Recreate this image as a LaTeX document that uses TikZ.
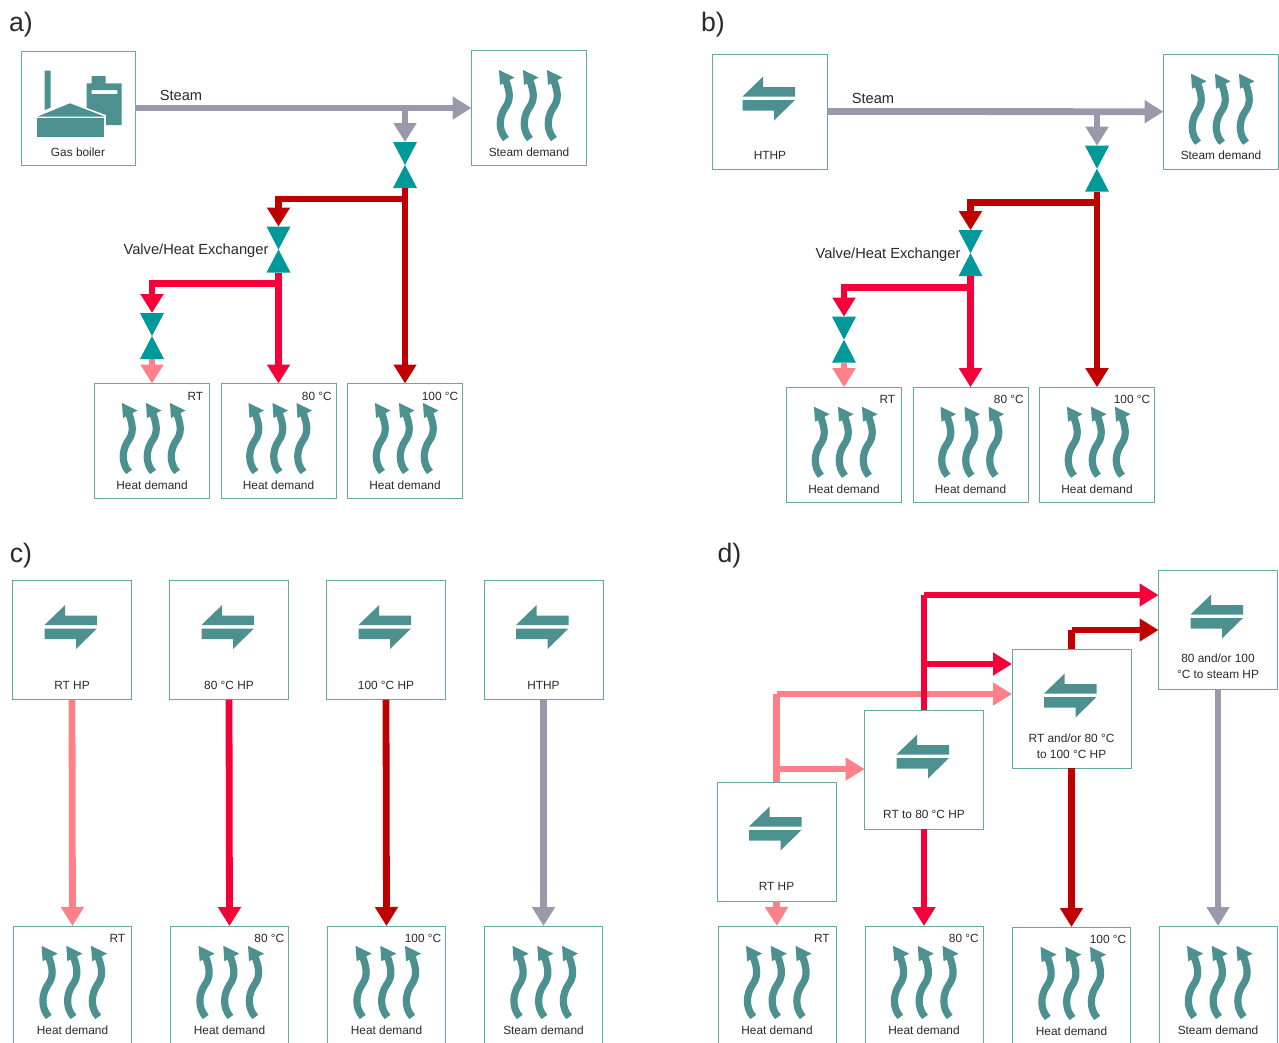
\documentclass[tikz,border=0pt]{standalone}
\usepackage{fontspec}
\setmainfont{Liberation Sans}
\usetikzlibrary{arrows.meta}
\definecolor{boxc}{HTML}{62AAA6}
\definecolor{iconc}{HTML}{4C9090}
\definecolor{valvec}{HTML}{009999}
\definecolor{grayc}{HTML}{9A99AC}
\definecolor{dredc}{HTML}{C00000}
\definecolor{redc}{HTML}{F50039}
\definecolor{pinkc}{HTML}{FF8088}
\definecolor{txtc}{HTML}{2A2A2A}
\tikzset{
  flowline/.style={line width=5.1pt,line join=miter,-{Triangle[length=14.25pt,width=16.5pt]}},
  stemline/.style={line width=5.1pt,line join=miter},
  bxstyle/.style={draw=boxc,line width=.65pt,fill=white,inner sep=0pt,outer sep=0pt},
  lblstyle/.style={font=\fontsize{8.9}{12}\selectfont,text=txtc,align=center,inner sep=0pt},
  bigstyle/.style={font=\fontsize{11}{13}\selectfont,text=txtc,inner sep=0pt},
  panelstyle/.style={font=\fontsize{20}{24}\selectfont,text=txtc,inner sep=0pt},
  valvestyle/.style={inner sep=0pt,outer sep=0pt,minimum width=18pt,minimum height=34.5pt}
}
% box: name, cx, cy, w, h
\newcommand{\bx}[5]{\node[bxstyle,minimum width=#4*.75pt,minimum height=#5*.75pt] (#1) at (#2,#3) {};}
% label inside box: name, dy, text
\newcommand{\lab}[3]{\node[lblstyle,shift={(0,#2)}] (#1-l) at (#1.center) {#3};}
% temperature label
\newcommand{\tmp}[2]{\node[lblstyle,anchor=east,shift={(-4,12.5)}] (#1-t) at (#1.north east) {#2};}
% heat pump icon
\newcommand{\hpi}[1]{\begin{scope}[shift={(#1.center)}]
  \fill[iconc] (-27.5,-15)--(-6.8,-35)--(-6.8,-24.5)--(25,-24.5)--(25,-15)--cycle;
  \fill[iconc] (-27.5,-11.5)--(25,-11.5)--(4,9)--(4,-1)--(-27.5,-1)--cycle;
\end{scope}}
% waves
\newcommand{\onewave}[1]{\begin{scope}[shift={(#1,0)}]
  \fill[iconc] (0,0)--(15.5,7.5)--(1,15)--cycle;
  \draw[iconc,line width=5.4pt] (7,11) .. controls (11,22) and (12,30) .. (6,38) .. controls (0,47) and (-1,60) .. (7,69);
\end{scope}}
\newcommand{\waves}[2]{\begin{scope}[shift={(#1.center)},scale=#2,shift={(-30,-38)}]
  \onewave{0}\onewave{24}\onewave{48}
\end{scope}}
% valve
\newcommand{\valve}[3]{\node[valvestyle] (#1) at (#2,#3) {};
  \fill[valvec] (#1.north west)--(#1.north east)--(#1.center)--cycle;
  \fill[valvec] (#1.south west)--(#1.south east)--(#1.center)--cycle;}
% panels a and b: prefix, dx, dy
\newcommand{\panelab}[3]{%
  \bx{#1st}{{529+#2}}{{108+#3}}{115}{115}
  \waves{#1st}{1}\lab{#1st}{44}{Steam demand}
  \bx{#1rt}{{152+#2}}{{441+#3}}{115}{115}
  \waves{#1rt}{1}\lab{#1rt}{44.5}{Heat demand}\tmp{#1rt}{RT\hspace{1.5pt}}
  \bx{#1ei}{{278.5+#2}}{{441+#3}}{115}{115}
  \waves{#1ei}{1}\lab{#1ei}{44.5}{Heat demand}\tmp{#1ei}{80 °C}
  \bx{#1hu}{{405+#2}}{{441+#3}}{115}{115}
  \waves{#1hu}{1}\lab{#1hu}{44.5}{Heat demand}\tmp{#1hu}{100 °C}
  \valve{#1va}{{405+#2}}{{165+#3}}
  \valve{#1vb}{{278.5+#2}}{{249.5+#3}}
  \valve{#1vc}{{152+#2}}{{336+#3}}
  \coordinate (#1ja) at ({405+#2},{108+#3});
  \coordinate (#1jb) at ({405+#2},{199+#3});
  \coordinate (#1jc) at ({278.5+#2},{283.5+#3});
  \node[bigstyle] (#1steam) at ({181+#2},{95+#3}) {Steam};
  \node[bigstyle] (#1vhx) at ({196+#2},{251+#3}) {Valve/Heat Exchanger};
  \draw[flowline,grayc] (#1src.east) -- (#1st.west);
  \draw[flowline,grayc] (#1ja) -- (#1va.north);
  \draw[flowline,dredc] (#1va.south) -- (#1hu.north);
  \draw[flowline,dredc] (#1jb) -| (#1vb.north);
  \draw[flowline,redc] (#1vb.south) -- (#1ei.north);
  \draw[flowline,redc] (#1jc) -| (#1vc.north);
  \draw[flowline,pinkc] (#1vc.south) -- (#1rt.north);
}
% lower demand box: name, cx, cy, text, temp
\newcommand{\lowbox}[5]{\bx{#1}{#2}{#3}{118}{118}\waves{#1}{1.03}\lab{#1}{45}{#4}\tmp{#1}{#5}}
\begin{document}
\begin{tikzpicture}[x=.75pt,y=-.75pt]
\clip (0,0) rectangle (1279,1043);
\fill[white] (0,0) rectangle (1279,1043);
% panel labels
\node[panelstyle] (pa) at (21,25) {a)};
\node[panelstyle] (pb) at (713,25) {b)};
\node[panelstyle] (pc) at (21,556) {c)};
\node[panelstyle] (pd) at (729.5,556) {d)};
% panel a source
\bx{asrc}{78}{108}{114}{114}
\lab{asrc}{44}{Gas boiler}
\fill[iconc] (44.7,70.7)--(50.7,70.7)--(50.7,107.6)--(44.7,110)--cycle;
\fill[iconc] (37.3,116.7)--(70,103.3)--(105,116.7)--cycle;
\fill[iconc] (37.3,118.3)--(104,118.3)--(104,137.3)--(37.3,137.3)--cycle;
\fill[iconc,even odd rule] (86.7,83.3)--(91.7,83.3)--(91.7,76)--(105.7,76)--(105.7,83.3)--(121.7,83.3)--(121.7,125)--(106,125)--(106,115)--(86.7,107.8)--cycle
  (91.7,90)--(91.7,94)--(117.3,94)--(117.3,90)--cycle;
\panelab{a}{0}{0}
% panel b source
\bx{bsrc}{770}{111.5}{115}{115}
\hpi{bsrc}
\lab{bsrc}{43.5}{HTHP}
\panelab{b}{692}{3.7}
% panel c
\bx{c1}{72}{640}{119}{119}\hpi{c1}\lab{c1}{45}{RT HP}
\bx{c2}{229}{640}{119}{119}\hpi{c2}\lab{c2}{45}{80 °C HP}
\bx{c3}{386}{640}{119}{119}\hpi{c3}\lab{c3}{45}{100 °C HP}
\bx{c4}{543.5}{640}{119}{119}\hpi{c4}\lab{c4}{45}{HTHP}
\lowbox{e1}{72.5}{985}{Heat demand}{RT\hspace{1.5pt}}
\lowbox{e2}{229.5}{985}{Heat demand}{80 °C}
\lowbox{e3}{386.5}{985}{Heat demand}{100 °C}
\lowbox{e4}{543.5}{985}{Steam demand}{}
\draw[flowline,pinkc] (c1.south) -- (e1.north);
\draw[flowline,redc] (c2.south) -- (e2.north);
\draw[flowline,dredc] (c3.south) -- (e3.north);
\draw[flowline,grayc] (c4.south) -- (e4.north);
% panel d
\bx{d1}{776.5}{841.5}{119}{119}\hpi{d1}\lab{d1}{45}{RT HP}
\bx{d2}{924}{769.5}{119}{119}\hpi{d2}\lab{d2}{45}{RT to 80 °C HP}
\bx{d3}{1071.5}{708.5}{119}{119}\hpi{d3}\lab{d3}{37.5}{RT and/or 80 °C\\to 100 °C HP}
\bx{d4}{1218}{629.5}{119}{119}\hpi{d4}\lab{d4}{36.5}{80 and/or 100\\°C to steam HP}
\lowbox{f1}{777}{985}{Heat demand}{RT\hspace{1.5pt}}
\lowbox{f2}{924}{985}{Heat demand}{80 °C}
\lowbox{f3}{1071.5}{986}{Heat demand}{100 °C}
\lowbox{f4}{1218}{985}{Steam demand}{}
\coordinate (dp1) at (776.5,769);
\coordinate (dp2) at (776.5,694);
\coordinate (dr1) at (924,664);
\coordinate (dr2) at (924,595);
\coordinate (dk1) at (1071.5,630);
\draw[stemline,pinkc] (d1.north) -- (dp2);
\draw[flowline,pinkc] (dp2) -- (d3.west |- dp2);
\draw[flowline,pinkc] (dp1) -- (d2.west |- dp1);
\draw[flowline,pinkc] (d1.south) -- (f1.north);
\draw[stemline,redc] (d2.north -| dr2) -- (dr2);
\draw[flowline,redc] (dr2) -- (d4.west |- dr2);
\draw[flowline,redc] (dr1) -- (d3.west |- dr1);
\draw[flowline,redc] (d2.south) -- (f2.north);
\draw[stemline,dredc] (d3.north -| dk1) -- (dk1);
\draw[flowline,dredc] (dk1) -- (d4.west |- dk1);
\draw[flowline,dredc] (d3.south) -- (f3.north);
\draw[flowline,grayc] (d4.south) -- (f4.north);
\end{tikzpicture}
\end{document}
